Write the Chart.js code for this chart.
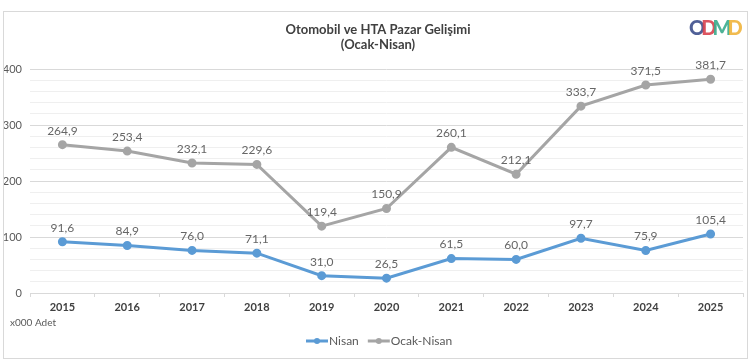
<!DOCTYPE html>
<html>
<head>
<meta charset="utf-8">
<script src="https://cdn.jsdelivr.net/npm/chart.js@4.4.1/dist/chart.umd.min.js"></script>
<style>
  html, body { margin: 0; padding: 0; background: #fff; }
  #wrap { width: 750px; height: 363px; position: relative; }
</style>
</head>
<body>
<div id="wrap"><canvas id="chart" width="750" height="363"></canvas></div>
<script>
const years = ['2015', '2016', '2017', '2018', '2019', '2020', '2021', '2022', '2023', '2024', '2025'];
const nisan = [91.6, 84.9, 76.0, 71.1, 31.0, 26.5, 61.5, 60.0, 97.7, 75.9, 105.4];
const ocakNisan = [264.9, 253.4, 232.1, 229.6, 119.4, 150.9, 260.1, 212.1, 333.7, 371.5, 381.7];
const titleLines = ['Otomobil ve HTA Pazar Gelişimi', '(Ocak-Nisan)'];
const unitNote = 'x000 Adet';

const FONT = 'Lato, "Open Sans", sans-serif';
const BLUE = '#5b9bd5';
const GRAY = '#a5a5a5';

// labels above points, frame, title, logo, legend
const decorPlugin = {
  id: 'decor',
  afterDatasetsDraw(chart) {
    const ctx = chart.ctx;
    ctx.save();
    ctx.font = '12px ' + FONT;
    ctx.fillStyle = '#666666';
    ctx.textAlign = 'center';
    ctx.textBaseline = 'middle';
    chart.data.datasets.forEach((ds, i) => {
      chart.getDatasetMeta(i).data.forEach((pt, j) => {
        ctx.fillText(ds.data[j].toFixed(1).replace('.', ','), pt.x, pt.y - 14);
      });
    });
    ctx.restore();
  },
  afterDraw(chart) {
    const ctx = chart.ctx;
    ctx.save();
    // frame
    ctx.strokeStyle = '#d9d9d9';
    ctx.lineWidth = 1;
    ctx.strokeRect(3.5, 11.5, 744, 347);

    // title
    ctx.fillStyle = '#404040';
    ctx.font = 'bold 13px ' + FONT;
    ctx.textAlign = 'center';
    ctx.textBaseline = 'middle';
    ctx.fillText(titleLines[0], 378, 30);
    ctx.fillText(titleLines[1], 378, 45);

    // logo
    const letters = [['O', '#3d4f8c'], ['D', '#d8424f'], ['M', '#3aab8c'], ['D', '#f0b43c']];
    ctx.font = '900 20px ' + FONT;
    ctx.textAlign = 'left';
    let lx = 689;
    letters.forEach(([ch, col]) => {
      ctx.fillStyle = col;
      ctx.globalAlpha = 0.9;
      ctx.fillText(ch, lx, 29);
      lx += ctx.measureText(ch).width - 4;
    });
    ctx.globalAlpha = 1;

    // unit note
    ctx.fillStyle = '#595959';
    ctx.font = '10px ' + FONT;
    ctx.fillText(unitNote, 10, 323);

    // legend
    ctx.font = '12px ' + FONT;
    let x = 306;
    const y = 341;
    chart.data.datasets.forEach(ds => {
      ctx.strokeStyle = ds.borderColor;
      ctx.lineWidth = 3;
      ctx.beginPath();
      ctx.moveTo(x, y);
      ctx.lineTo(x + 22, y);
      ctx.stroke();
      ctx.fillStyle = ds.borderColor;
      ctx.beginPath();
      ctx.arc(x + 11, y, 3, 0, Math.PI * 2);
      ctx.fill();
      ctx.fillStyle = '#595959';
      ctx.fillText(ds.label, x + 23, y);
      x += 23 + ctx.measureText(ds.label).width + 9;
    });
    ctx.restore();
  }
};

new Chart(document.getElementById('chart'), {
  type: 'line',
  data: {
    labels: years,
    datasets: [
      {
        label: 'Nisan',
        data: nisan,
        borderColor: BLUE,
        backgroundColor: BLUE,
        borderWidth: 3,
        pointRadius: 3,
        pointBackgroundColor: BLUE,
        tension: 0
      },
      {
        label: 'Ocak-Nisan',
        data: ocakNisan,
        borderColor: GRAY,
        backgroundColor: GRAY,
        borderWidth: 3,
        pointRadius: 3,
        pointBackgroundColor: GRAY,
        tension: 0
      }
    ]
  },
  options: {
    responsive: false,
    animation: false,
    layout: { padding: { top: 69, left: 4, right: 5, bottom: 48 } },
    plugins: {
      legend: { display: false },
      title: { display: false },
      tooltip: { enabled: false }
    },
    scales: {
      x: {
        offset: true,
        afterFit(scale) { scale.height = 22; },
        grid: {
          offset: true,
          drawOnChartArea: false,
          drawTicks: true,
          tickLength: 4,
          color: '#d9d9d9'
        },
        border: { display: true, color: '#d9d9d9' },
        ticks: {
          color: '#404040',
          font: { family: FONT, size: 11, weight: 'bold' },
          padding: 4
        }
      },
      y: {
        min: 0,
        max: 400,
        afterFit(scale) { scale.width = 26; },
        grid: {
          drawTicks: false,
          color: ctx => (ctx.tick && ctx.tick.value % 100 === 0) ? '#d9d9d9' : '#efefef'
        },
        border: { display: false },
        ticks: {
          stepSize: 20,
          autoSkip: false,
          padding: 8,
          color: '#595959',
          font: { family: FONT, size: 11 },
          callback: v => (v % 100 === 0 ? v : '')
        }
      }
    }
  },
  plugins: [decorPlugin]
});
</script>
</body>
</html>
